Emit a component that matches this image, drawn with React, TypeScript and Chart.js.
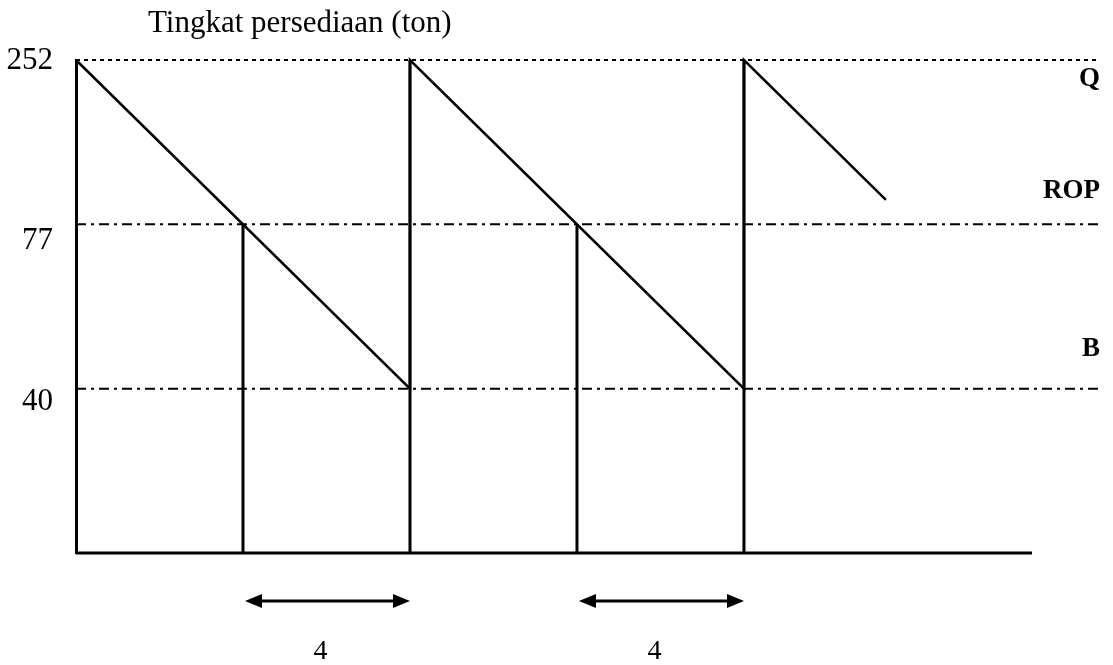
import React, { useEffect, useRef } from 'react';
import { Chart, registerables } from 'chart.js';

Chart.register(...registerables);

// Schematic stock levels (ton) shown on the vertical axis, bottom to top
const levelStock = [0, 40, 77, 252];
const levelTickLabels = ['', '40', '77', '252'];
const levelNames = ['', 'B', 'ROP', 'Q'];

// Sawtooth inventory curve (time, stock)
const cycleX = [0, 8, 8, 16, 16, 19.4];
const cycleStock = [252, 40, 252, 40, 252, 103];

// Order moments (stock reaches ROP) and arrival moments (stock back to Q)
const reorderX = [4, 12];
const arrivalX = [8, 16];
const leadTimeLabels = ['4', '4'];

const baselineEnd = 22.9;
const xMax = 24.48;

const SERIF = '"Liberation Serif", "DejaVu Serif", serif';

function toLevel(v: number): number {
  for (let i = 0; i < levelStock.length - 1; i++) {
    const a = levelStock[i];
    const b = levelStock[i + 1];
    if (v <= b) return i + (v - a) / (b - a);
  }
  return levelStock.length - 1;
}

const annotPlugin = {
  id: 'annot',
  afterDatasetsDraw(chart: any) {
    const { ctx, chartArea, scales } = chart;
    const xs = scales.x;
    const ys = scales.y;
    ctx.save();
    ctx.fillStyle = '#000';
    ctx.strokeStyle = '#000';

    // title
    ctx.font = `31px ${SERIF}`;
    ctx.textAlign = 'left';
    ctx.textBaseline = 'alphabetic';
    ctx.fillText('Tingkat persediaan (ton)', chartArea.left + 72, 32);

    // y labels
    const tickOffsets = [0, 13, 17, 1];
    ctx.font = `31px ${SERIF}`;
    ctx.textAlign = 'right';
    ctx.textBaseline = 'middle';
    for (let i = 1; i < levelStock.length; i++) {
      const py = ys.getPixelForValue(toLevel(levelStock[i]));
      ctx.fillText(levelTickLabels[i], chartArea.left - 23, py + tickOffsets[i]);
    }

    // right labels
    const nameOffsets = [0, -40, -33, 19];
    ctx.font = `bold 27px ${SERIF}`;
    ctx.textAlign = 'right';
    for (let i = 1; i < levelStock.length; i++) {
      const py = ys.getPixelForValue(toLevel(levelStock[i]));
      ctx.fillText(levelNames[i], chartArea.right + 2, py + nameOffsets[i]);
    }

    // lead time arrows
    const ay = chartArea.bottom + 48;
    const head = 17;
    const half = 7;
    for (let i = 0; i < reorderX.length; i++) {
      const x1 = xs.getPixelForValue(reorderX[i]) + 2;
      const x2 = xs.getPixelForValue(arrivalX[i]);
      ctx.lineWidth = 3;
      ctx.beginPath();
      ctx.moveTo(x1 + head - 2, ay);
      ctx.lineTo(x2 - head + 2, ay);
      ctx.stroke();
      ctx.beginPath();
      ctx.moveTo(x1, ay);
      ctx.lineTo(x1 + head, ay - half);
      ctx.lineTo(x1 + head, ay + half);
      ctx.closePath();
      ctx.fill();
      ctx.beginPath();
      ctx.moveTo(x2, ay);
      ctx.lineTo(x2 - head, ay - half);
      ctx.lineTo(x2 - head, ay + half);
      ctx.closePath();
      ctx.fill();

      ctx.font = `28px ${SERIF}`;
      ctx.textAlign = 'center';
      ctx.textBaseline = 'middle';
      ctx.fillText(leadTimeLabels[i], (x1 + x2) / 2 - 7, chartArea.bottom + 99);
    }
    ctx.restore();
  },
};

export default function App() {
  const canvasRef = useRef<HTMLCanvasElement | null>(null);

  useEffect(() => {
    if (!canvasRef.current) return;
    const solid = (data: { x: number; y: number }[], width: number) => ({
      data,
      borderColor: '#000',
      borderWidth: width,
      pointRadius: 0,
      fill: false,
      tension: 0,
      clip: false as any,
    });
    const levelLine = (stock: number, dash: number[]) => ({
      data: [
        { x: 0, y: toLevel(stock) },
        { x: xMax, y: toLevel(stock) },
      ],
      borderColor: '#000',
      borderWidth: 2,
      borderDash: dash,
      pointRadius: 0,
      fill: false,
      clip: false as any,
    });

    const datasets: any[] = [];
    datasets.push(levelLine(levelStock[3], [4, 4]));
    datasets.push(levelLine(levelStock[2], [10, 5, 3, 5]));
    datasets.push(levelLine(levelStock[1], [10, 5, 3, 5]));
    datasets.push(
      solid(
        cycleX.map((x, i) => ({ x, y: toLevel(cycleStock[i]) })),
        2.5
      )
    );
    reorderX.forEach((x) =>
      datasets.push(
        solid(
          [
            { x, y: toLevel(0) },
            { x, y: toLevel(levelStock[2]) },
          ],
          3
        )
      )
    );
    arrivalX.forEach((x) =>
      datasets.push(
        solid(
          [
            { x, y: toLevel(0) },
            { x, y: toLevel(levelStock[3]) },
          ],
          3
        )
      )
    );
    datasets.push(
      solid(
        [
          { x: 0, y: toLevel(0) },
          { x: baselineEnd, y: toLevel(0) },
        ],
        3
      )
    );

    const chart = new Chart(canvasRef.current, {
      type: 'line',
      data: { datasets },
      options: {
        animation: false,
        responsive: false,
        devicePixelRatio: 1,
        layout: { padding: { left: 0, right: 15, top: 60, bottom: 112 } },
        plugins: {
          legend: { display: false },
          tooltip: { enabled: false },
          title: { display: false },
        },
        scales: {
          x: {
            type: 'linear',
            min: 0,
            max: xMax,
            display: false,
          },
          y: {
            type: 'linear',
            min: 0,
            max: levelStock.length - 1,
            grid: { display: false, drawTicks: false },
            border: { display: true, color: '#000', width: 3 },
            ticks: { display: false },
            afterFit: (s: any) => {
              s.width = 76;
            },
          },
        },
      } as any,
      plugins: [annotPlugin],
    });
    return () => chart.destroy();
  }, []);

  return (
    <div
      style={{
        position: 'fixed',
        left: 0,
        top: 0,
        width: 1113,
        height: 665,
        background: '#fff',
      }}
    >
      <canvas ref={canvasRef} width={1113} height={665} />
    </div>
  );
}
